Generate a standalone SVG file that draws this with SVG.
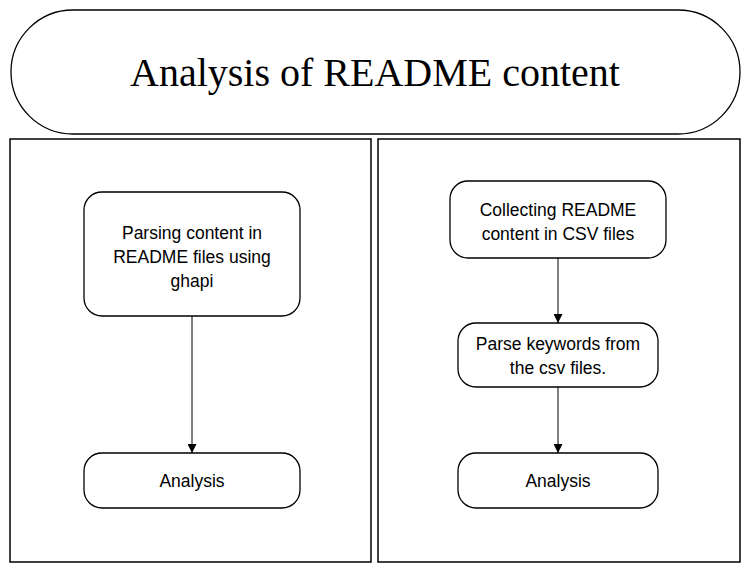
<svg xmlns="http://www.w3.org/2000/svg" width="750" height="574" viewBox="0 0 750 574">
<defs>
<style>
.sh{fill:#fff;stroke:#000;stroke-width:1.3}
.pn{fill:#fff;stroke:#000;stroke-width:1.5}
.t{font-family:"Liberation Sans",Arial,sans-serif;font-size:17.5px;fill:#000;text-anchor:middle}
.ti{font-family:"Liberation Serif","Times New Roman",serif;font-size:40px;fill:#000;text-anchor:middle}
.c{stroke:#000;stroke-width:1;fill:none;marker-end:url(#ah)}
</style>
<marker id="ah" viewBox="0 0 10 10" refX="10" refY="5" markerWidth="9" markerHeight="9" markerUnits="userSpaceOnUse" orient="auto">
<path d="M0,0 L10,5 L0,10 z" fill="#000"/>
</marker>
</defs>
<rect width="750" height="574" fill="#fff"/>
<g id="title">
<rect class="sh" x="11" y="10" width="729" height="124" rx="62" ry="62"/>
<text class="ti" x="375" y="86">Analysis of README content</text>
</g>
<g id="panel-left"><rect class="pn" x="10" y="139" width="361" height="423"/></g>
<g id="panel-right"><rect class="pn" x="378" y="139" width="362" height="423"/></g>
<g id="n1">
<rect class="sh" x="84" y="192" width="216" height="124" rx="18"/>
<text class="t" x="192" y="239">Parsing content in</text>
<text class="t" x="192" y="263">README files using</text>
<text class="t" x="192" y="287">ghapi</text>
</g>
<g id="n2">
<rect class="sh" x="84" y="453" width="216" height="55" rx="18"/>
<text class="t" x="192" y="487">Analysis</text>
</g>
<g id="n3">
<rect class="sh" x="450" y="181" width="216" height="77" rx="18"/>
<text class="t" x="558" y="216">Collecting README</text>
<text class="t" x="558" y="240">content in CSV files</text>
</g>
<g id="n4">
<rect class="sh" x="458" y="323" width="200" height="64" rx="18"/>
<text class="t" x="558" y="350">Parse keywords from</text>
<text class="t" x="558" y="374">the csv files.</text>
</g>
<g id="n5">
<rect class="sh" x="458" y="453" width="200" height="55" rx="18"/>
<text class="t" x="558" y="487">Analysis</text>
</g>
<g id="connectors">
<line class="c" x1="192" y1="316" x2="192" y2="453"/>
<line class="c" x1="558" y1="258" x2="558" y2="323"/>
<line class="c" x1="558" y1="387" x2="558" y2="453"/>
</g>
</svg>
